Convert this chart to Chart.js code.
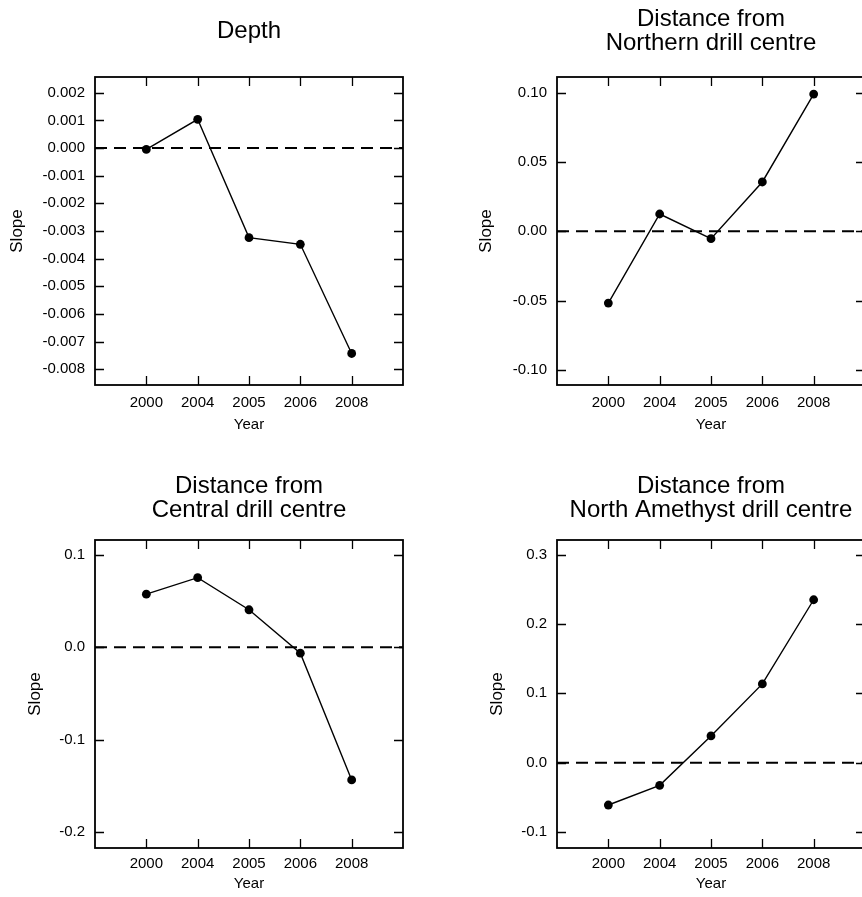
<!DOCTYPE html>
<html>
<head>
<meta charset="utf-8">
<title>Slope by year</title>
<script src="https://cdn.jsdelivr.net/npm/chart.js@4/dist/chart.umd.min.js"></script>
<style>
  html, body { margin: 0; padding: 0; background: #fff; overflow: hidden; }
  body { width: 862px; height: 897px; position: relative; }
  canvas { position: absolute; }
</style>
</head>
<body>
<canvas id="depth" width="431" height="450" style="left:0;top:0"></canvas>
<canvas id="northern" width="450" height="450" style="left:431px;top:0"></canvas>
<canvas id="central" width="431" height="447" style="left:0;top:450px"></canvas>
<canvas id="amethyst" width="450" height="447" style="left:431px;top:450px"></canvas>
<script>
// survey years (x categories)
var years = ["2000", "2004", "2005", "2006", "2008"];

// slope per year
var depthSlope    = [-0.00005, 0.00104, -0.00324, -0.00348, -0.00743];
var northernSlope = [-0.0517, 0.0125, -0.0053, 0.0356, 0.0990];
var centralSlope  = [0.0574, 0.0752, 0.0405, -0.0065, -0.1436];
var amethystSlope = [-0.0611, -0.0327, 0.0386, 0.1136, 0.2350];

// y tick labels
var depthTicks    = [0.002, 0.001, 0, -0.001, -0.002, -0.003, -0.004, -0.005, -0.006, -0.007, -0.008];
var northernTicks = [0.10, 0.05, 0, -0.05, -0.10];
var centralTicks  = [0.1, 0, -0.1, -0.2];
var amethystTicks = [0.3, 0.2, 0.1, 0, -0.1];

var FONT = "'Liberation Sans', Arial, Helvetica, sans-serif";
Chart.defaults.font.family = FONT;
Chart.defaults.color = "#000";

// box around the plot + inward tick marks on all four sides
var frame = {
  id: "frame",
  afterDraw: function (chart) {
    var ctx = chart.ctx, a = chart.chartArea;
    var xs = chart.scales.x, ys = chart.scales.y, len = 9;
    ctx.save();
    ctx.strokeStyle = "#000";
    ctx.lineWidth = 1.3;
    ctx.beginPath();
    xs.ticks.forEach(function (t) {
      var px = Math.round(xs.getPixelForValue(t.value)) + 0.5;
      ctx.moveTo(px, a.bottom); ctx.lineTo(px, a.bottom - len);
      ctx.moveTo(px, a.top); ctx.lineTo(px, a.top + len);
    });
    ys.ticks.forEach(function (t) {
      var py = Math.round(ys.getPixelForValue(t.value)) + 0.5;
      ctx.moveTo(a.left, py); ctx.lineTo(a.left + len, py);
      ctx.moveTo(a.right, py); ctx.lineTo(a.right - len, py);
    });
    ctx.stroke();
    ctx.lineWidth = 1.8;
    ctx.strokeRect(a.left, a.top, a.right - a.left, a.bottom - a.top);
    ctx.restore();
  }
};

function makePanel(id, title, values, ticks, decimals, yMin, yMax, lay) {
  var pts = values.map(function (v, i) { return { x: i, y: v }; });
  return new Chart(document.getElementById(id), {
    type: "line",
    data: {
      datasets: [{
        data: pts,
        borderColor: "#000",
        borderWidth: 1.4,
        pointRadius: 4.4,
        pointBackgroundColor: "#000",
        pointBorderWidth: 0
      }, {
        data: [{ x: -1, y: 0 }, { x: 5, y: 0 }],
        borderColor: "#000",
        borderWidth: 2,
        borderDash: [12, 7],
        pointRadius: 0
      }]
    },
    plugins: [frame],
    options: {
      responsive: false,
      animation: false,
      devicePixelRatio: 1,
      layout: { padding: { left: lay.left, right: lay.right, top: 0, bottom: lay.bottom } },
      plugins: {
        legend: { display: false },
        tooltip: { enabled: false },
        title: {
          display: true,
          text: title,
          fullSize: false,
          color: "#000",
          font: { size: 24, weight: "normal", lineHeight: 1 },
          padding: { top: lay.titleTop, bottom: lay.titleBottom }
        }
      },
      scales: {
        x: {
          type: "linear",
          min: -1,
          max: 5,
          afterBuildTicks: function (s) {
            s.ticks = years.map(function (y, i) { return { value: i }; });
          },
          afterFit: function (s) { s.height = lay.xHeight; },
          grid: { display: false, drawTicks: false },
          border: { display: false },
          ticks: {
            padding: lay.xPad,
            font: { size: 15 },
            maxRotation: 0,
            callback: function (v) { return years[v]; }
          },
          title: { display: true, text: "Year", font: { size: 15 }, padding: 0 }
        },
        y: {
          min: yMin,
          max: yMax,
          afterBuildTicks: function (s) {
            s.ticks = ticks.map(function (v) { return { value: v }; });
          },
          afterFit: function (s) { s.width = lay.yWidth; },
          grid: { display: false, drawTicks: false },
          border: { display: false },
          ticks: {
            padding: 10,
            font: { size: 15 },
            callback: function (v) { return v.toFixed(decimals); }
          },
          title: { display: true, text: "Slope", font: { size: 17 }, padding: 0 }
        }
      }
    }
  });
}

makePanel("depth", "Depth", depthSlope, depthTicks, 3, -0.00857, 0.00257,
  { left: 7, right: 28, bottom: 16.5, yWidth: 88, xHeight: 48.5, xPad: 8.5, titleTop: 19.7, titleBottom: 33.3 });
makePanel("northern", ["Distance from", "Northern drill centre"], northernSlope, northernTicks, 2, -0.1108, 0.1113,
  { left: 45.3, right: 16, bottom: 16.5, yWidth: 80.7, xHeight: 48.5, xPad: 8.5, titleTop: 7.4, titleBottom: 21.6 });
makePanel("central", ["Distance from", "Central drill centre"], centralSlope, centralTicks, 1, -0.2173, 0.116,
  { left: 25.3, right: 28, bottom: 4.2, yWidth: 69.7, xHeight: 44.8, xPad: 7, titleTop: 24, titleBottom: 18 });
makePanel("amethyst", ["Distance from", "North Amethyst drill centre"], amethystSlope, amethystTicks, 1, -0.1231, 0.3212,
  { left: 55.8, right: 16, bottom: 4.2, yWidth: 70.2, xHeight: 44.8, xPad: 7, titleTop: 24, titleBottom: 18 });
</script>
</body>
</html>
